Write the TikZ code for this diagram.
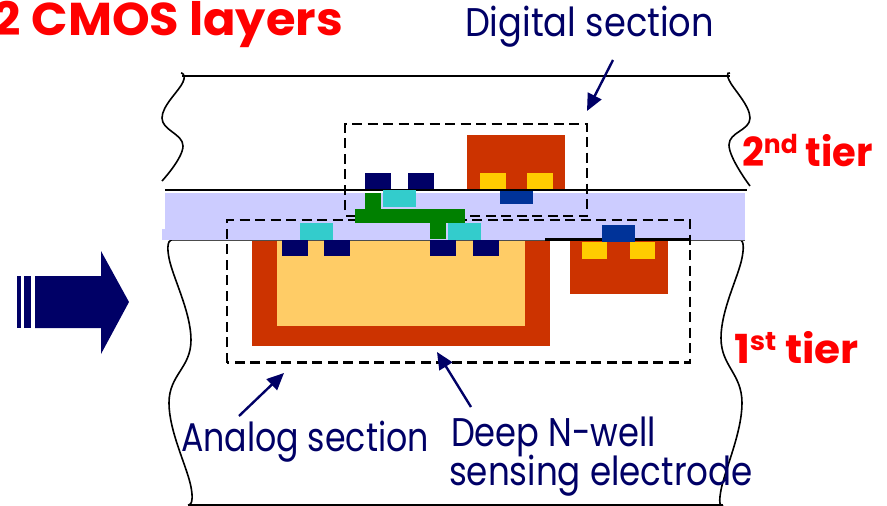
\documentclass[tikz,border=0pt]{standalone}
\usepackage{graphicx}
\usepackage{fontspec}
\setmainfont{Poppins}
\usetikzlibrary{arrows.meta}
\definecolor{navy}{HTML}{000066}
\definecolor{wellred}{HTML}{CC3300}
\definecolor{wellin}{HTML}{FFCC66}
\definecolor{gateyel}{HTML}{FFCC00}
\definecolor{lav}{HTML}{CCCCFF}
\definecolor{cyanm}{HTML}{33CCCC}
\definecolor{greenm}{HTML}{008000}
\definecolor{bluem}{HTML}{003399}
\definecolor{titlered}{HTML}{FF0000}
\newcommand{\fitw}[2]{\resizebox{#1pt}{\height}{#2}}
\newcommand{\supr}[1]{\raisebox{13pt}{\fontsize{26}{26}\selectfont #1}}
\tikzset{
  x=1pt,y=-1pt,
  wave/.style={line width=1.6pt,black},
  solidline/.style={line width=2.4pt,black},
  sect/.style={line width=2.8pt,black,dash pattern=on 10pt off 5.5pt},
  note/.style={anchor=base west,inner sep=0pt,outer sep=0pt,text=navy,font=\fontsize{40}{40}\selectfont},
  redtxt/.style={anchor=base west,inner sep=0pt,outer sep=0pt,text=titlered,font=\fontsize{40}{40}\selectfont\bfseries},
  callout/.style={line width=2.4pt,navy,-{Triangle[length=17pt,width=15pt]},shorten >=0pt},
}
\begin{document}
\begin{tikzpicture}
\useasboundingbox (0,0) rectangle (887,506);
\clip (0,0) rectangle (887,506);
% outlines
\draw[solidline] (182,76) -- (730,76);
\draw[wave] plot[smooth,tension=.7] coordinates {(181,73) (183,82) (162,118) (183,146) (162,181)};
\draw[wave] plot[smooth,tension=.7] coordinates {(730,73) (729,80) (750,118) (729,145) (750,186)};
\draw[wave] plot[smooth,tension=.7] coordinates {(172,240) (169,258) (191,340) (169,403) (191,487) (188,505)};
\draw[wave] plot[smooth,tension=.7] coordinates {(740,240) (742,258) (721,338) (742,403) (721,490) (723,505)};
\draw[solidline] (188,505) -- (723,505);
% oxide layer
\fill[lav] (165,193) rectangle (745,240);
\fill[lav] (162,229) rectangle (170,240);
\draw[line width=.8pt,black!70] (172,240) -- (745,240);
\draw[solidline] (165,190) -- (747,190);
\draw[solidline] (545,239.5) -- (690,239.5);
% section boxes
\draw[sect] (345,210) -- (345,124) -- (587,124) -- (587,216) -- (345,216);
\draw[sect] (227,362.5) -- (227,220) -- (690,220) -- (690,362.5) -- cycle;
% deep N-well
\fill[wellred] (252,240.5) rectangle (550,346);
\fill[wellin] (277,240.5) rectangle (525,326);
% upper pmos
\fill[wellred] (467,135) rectangle (565,189);
\fill[gateyel] (480,173) rectangle (506,189);
\fill[gateyel] (527,173) rectangle (553,189);
\fill[bluem] (500,191) rectangle (533,204);
% lower pmos
\fill[wellred] (570,240.5) rectangle (668,294);
\fill[gateyel] (582,242) rectangle (607,259);
\fill[gateyel] (630,242) rectangle (655,259);
\fill[bluem] (602,225) rectangle (635,242);
% navy diffusions
\fill[navy] (365,173) rectangle (391,189);
\fill[navy] (408,173) rectangle (434,189);
\fill[navy] (282,240) rectangle (308,256);
\fill[navy] (324,240) rectangle (350,256);
\fill[navy] (430,240) rectangle (456,256);
\fill[navy] (473,240) rectangle (499,256);
% metal
\fill[greenm] (355,209) rectangle (465,223);
\fill[greenm] (365,193) rectangle (381,209);
\fill[greenm] (430,223) rectangle (446,239);
% cyan gates
\fill[cyanm] (383,190) rectangle (416,207);
\fill[cyanm] (300,223) rectangle (333,240);
\fill[cyanm] (448,223) rectangle (481,240);
% big arrow
\fill[navy] (17,276) rectangle (21,328);
\fill[navy] (24,276) rectangle (31,328);
\fill[navy] (35,276) -- (101,276) -- (101,251) -- (129,302) -- (101,354) -- (101,328) -- (35,328) -- cycle;
% texts
\node[redtxt,font=\fontsize{46}{46}\selectfont\bfseries] (title) at (-6,35) {\fitw{349}{2 CMOS layers}};
\node[note] (digital) at (465,37) {\fitw{249}{Digital section}};
\node[redtxt] (tier2) at (742,166) {\fitw{131}{2\supr{nd} tier}};
\node[redtxt] (tier1) at (734,363) {\fitw{125}{1\supr{st} tier}};
\node[note] (analog) at (181,451) {\fitw{248}{Analog section}};
\node[note] (deep) at (451,446) {\fitw{205}{Deep N-well}};
\node[note] (sensing) at (449,485) {\fitw{304}{sensing electrode}};
% callouts
\coordinate (digA) at (613,60);
\coordinate (digB) at (587,111);
\coordinate (anaA) at (239,416);
\coordinate (anaB) at (284,373);
\coordinate (depA) at (471,407);
\coordinate (depB) at (437,352);
\draw[callout] (digA) -- (digB);
\draw[callout] (anaA) -- (anaB);
\draw[callout] (depA) -- (depB);
\end{tikzpicture}
\end{document}
